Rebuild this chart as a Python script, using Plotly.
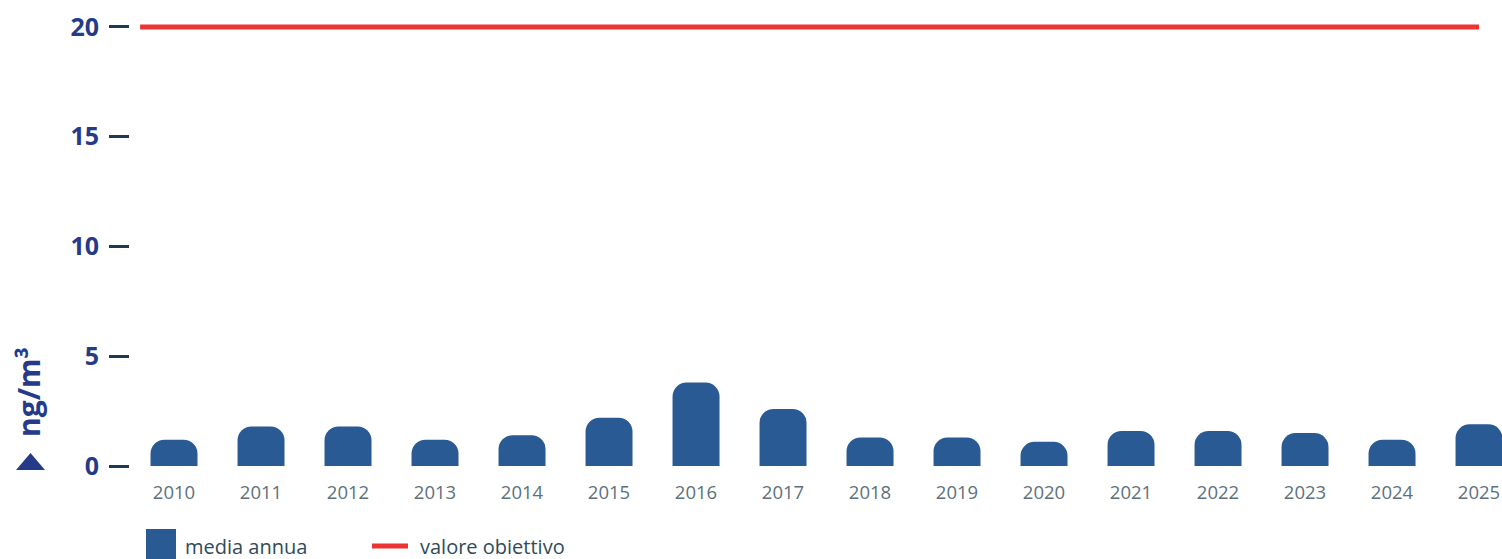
import plotly.graph_objects as go

# annual means (ng/m3)
years = [2010, 2011, 2012, 2013, 2014, 2015, 2016, 2017,
         2018, 2019, 2020, 2021, 2022, 2023, 2024, 2025]
media_annua = [1.2, 1.8, 1.8, 1.2, 1.4, 2.2, 3.8, 2.6,
               1.3, 1.3, 1.1, 1.6, 1.6, 1.5, 1.2, 1.9]
valore_obiettivo = 20
y_ticks = [0, 5, 10, 15, 20]

BLUE = '#295a93'
RED = '#ec3432'
NAVY = '#263a8a'
GREY = '#5d717c'

W, H = 1502, 559
L, B, T = 130, 93, 5
PW, PH = W - L, H - B - T


def px(x):  # pixel -> paper x
    return (x - L) / PW


def py(y):  # pixel -> paper y
    return (H - B - y) / PH


fig = go.Figure()

fig.add_trace(go.Bar(
    x=years, y=media_annua,
    width=0.54,
    marker=dict(color=BLUE, cornerradius=14, line_width=0),
    name='media annua', showlegend=False, hoverinfo='x+y'))

fig.add_trace(go.Scatter(
    x=[years[0] - 0.39, years[-1]], y=[valore_obiettivo, valore_obiettivo],
    mode='lines', line=dict(color=RED, width=5),
    name='valore obiettivo', showlegend=False))

fig.update_layout(
    width=W, height=H,
    margin=dict(l=L, r=0, t=T, b=B),
    paper_bgcolor='white', plot_bgcolor='white',
    font=dict(family='Open Sans'),
    xaxis=dict(
        range=[2009.494, 2025.264],
        tickmode='array', tickvals=years, ticktext=[str(y) for y in years],
        showgrid=False, zeroline=False, showline=False,
        ticks='outside', ticklen=10, tickcolor='rgba(0,0,0,0)',
        tickfont=dict(size=18.5, color=GREY, family='Open Sans')),
    yaxis=dict(
        range=[0, 21],
        tickmode='array', tickvals=y_ticks,
        showgrid=False, zeroline=False, showline=False,
        ticks='outside', ticklen=20, tickwidth=3, tickcolor='#1e3a52',
        ticklabelstandoff=5,
        tickfont=dict(size=25, color=NAVY, family='Open Sans', weight='bold')),
)

# y axis title with arrow
fig.add_annotation(
    xref='paper', yref='paper',
    x=px(28), y=py(392), xanchor='center', yanchor='middle',
    text='<b>ng/m³</b>', textangle=-90, showarrow=False,
    font=dict(size=30, color=NAVY, family='Open Sans'))
fig.add_shape(
    type='path', xref='paper', yref='paper',
    path=f'M {px(16)} {py(470)} L {px(45)} {py(470)} L {px(30.5)} {py(453)} Z',
    fillcolor=NAVY, line_width=0)

# legend drawn below the plot
fig.add_shape(type='rect', xref='paper', yref='paper',
              x0=px(146), x1=px(176), y0=py(559), y1=py(529),
              fillcolor=BLUE, line_width=0)
fig.add_annotation(xref='paper', yref='paper',
                   x=px(183), y=py(546),
                   xanchor='left', yanchor='middle', showarrow=False,
                   text='media annua',
                   font=dict(size=20, color='#2e4b5a', family='Open Sans'))
fig.add_shape(type='line', xref='paper', yref='paper',
              x0=px(372), x1=px(408), y0=py(546), y1=py(546),
              line=dict(color=RED, width=5))
fig.add_annotation(xref='paper', yref='paper',
                   x=px(418), y=py(546),
                   xanchor='left', yanchor='middle', showarrow=False,
                   text='valore obiettivo',
                   font=dict(size=20, color='#2e4b5a', family='Open Sans'))

fig.write_html('out.html', config={'displayModeBar': False},
               post_script="document.body.style.margin='0';")
